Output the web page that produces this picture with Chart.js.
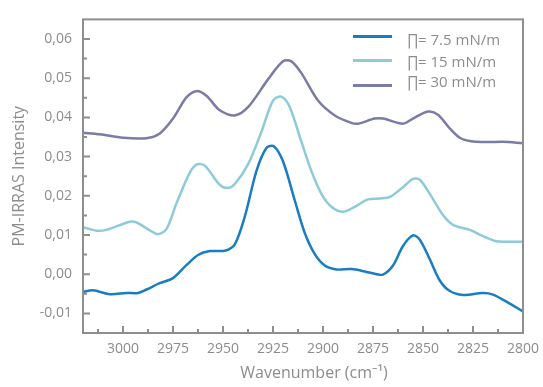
<!DOCTYPE html>
<html>
<head>
<meta charset="utf-8">
<script src="https://cdn.jsdelivr.net/npm/chart.js@4/dist/chart.umd.min.js"></script>
<style>
  html, body { margin: 0; padding: 0; background: #fff; }
  canvas { display: block; }
</style>
</head>
<body>
<canvas id="spectra" width="543" height="387"></canvas>
<script>
// series labels and colours
const labels = ["∏= 7.5 mN/m", "∏= 15 mN/m", "∏= 30 mN/m"];
const colors = ["#1a7cc1", "#8ecad8", "#7b7ba8"];

// wavenumber (cm-1) and PM-IRRAS intensity
const wn75 = [3020, 3015, 3006.6, 2998.3, 2992.5, 2988.3, 2981.6, 2975, 2968.3, 2962.5, 2956.6, 2949, 2944.1, 2939.1, 2933.3, 2928.3, 2924.5, 2920, 2914.1, 2909.1, 2904.1, 2899.1, 2893.3, 2885.8, 2879.1, 2874.1, 2870, 2865, 2860, 2855, 2851.6, 2846.6, 2841.6, 2836.6, 2830, 2820, 2815, 2808.3, 2803.3, 2800];
const val75 = [-0.0045, -0.0041, -0.0051, -0.0048, -0.0048, -0.0039, -0.0023, -0.001, 0.0023, 0.0049, 0.0059, 0.006, 0.0076, 0.0147, 0.0263, 0.0322, 0.0326, 0.0288, 0.0188, 0.0105, 0.0051, 0.0022, 0.0012, 0.0013, 0.0007, 0.0001, -0.0001, 0.0022, 0.0072, 0.0099, 0.0088, 0.0038, -0.0016, -0.0043, -0.0053, -0.0048, -0.0052, -0.007, -0.0085, -0.0095];

const wn15 = [3020, 3013.3, 3008.3, 2996.6, 2993.3, 2986.6, 2982.5, 2978.3, 2973.3, 2966.6, 2963, 2959.1, 2951.6, 2947.5, 2944.1, 2937.5, 2930.8, 2925, 2920.8, 2916.6, 2910.8, 2905.8, 2900.8, 2895.8, 2890, 2884.1, 2877.5, 2871.6, 2866.6, 2860, 2855, 2851.6, 2846.6, 2840, 2835, 2826.6, 2820, 2813.3, 2806.6, 2800];
const val15 = [0.012, 0.0111, 0.0113, 0.0134, 0.0132, 0.0112, 0.0102, 0.0115, 0.018, 0.0259, 0.028, 0.0277, 0.0228, 0.022, 0.023, 0.028, 0.0363, 0.0443, 0.0453, 0.0426, 0.0338, 0.0263, 0.0205, 0.0172, 0.0159, 0.0172, 0.0191, 0.0193, 0.0197, 0.0222, 0.0243, 0.0241, 0.0205, 0.0151, 0.0126, 0.0113, 0.0097, 0.0084, 0.0083, 0.0083];

const wn30 = [3020, 3011.6, 3000, 2988.3, 2981.6, 2975, 2968.3, 2963.3, 2958.3, 2951.6, 2944.1, 2937.5, 2927.5, 2920, 2915.8, 2910.8, 2902.5, 2894.1, 2885.8, 2882.5, 2874.1, 2870, 2860, 2855, 2847.5, 2842.5, 2836.6, 2831.6, 2826.6, 2818.3, 2810, 2800];
const val30 = [0.0361, 0.0357, 0.0348, 0.0347, 0.0359, 0.0397, 0.0451, 0.0467, 0.0455, 0.0418, 0.0405, 0.0426, 0.0497, 0.0543, 0.0543, 0.0513, 0.0443, 0.0405, 0.0386, 0.0384, 0.0397, 0.0397, 0.0384, 0.0397, 0.0415, 0.0407, 0.0372, 0.0348, 0.034, 0.0337, 0.0338, 0.0334];

// axis ranges and ticks
const xMin = 2800, xMax = 3020, xStep = 12.5, xLabelStep = 25;
const yMin = -0.015, yMax = 0.065;
const yTicks = [-0.015, -0.01, -0.005, 0, 0.005, 0.01, 0.015, 0.02, 0.025, 0.03, 0.035, 0.04, 0.045, 0.05, 0.055, 0.06];
const xTitle = "Wavenumber (cm⁻¹)";

const frameColor = "#8e8e8e";
const textColor = "#8c8c8c";
const fontFamily = "'Open Sans', 'Noto Sans', sans-serif";

function toPoints(xs, ys) {
    return xs.map((x, i) => ({ x: x, y: ys[i] }));
}

const series = [toPoints(wn75, val75), toPoints(wn15, val15), toPoints(wn30, val30)];

// frame and inward tick marks
const framePlugin = {
    id: "frame",
    afterDatasetsDraw(chart) {
        const { ctx, chartArea: a } = chart;
        const xs = chart.scales.x, ys = chart.scales.y;
        ctx.save();
        ctx.strokeStyle = frameColor;
        ctx.lineWidth = 2;
        ctx.strokeRect(a.left, a.top, a.right - a.left, a.bottom - a.top);
        ctx.beginPath();
        xs.ticks.forEach(t => {
            const px = xs.getPixelForValue(t.value);
            if (px <= a.left + 2 || px >= a.right - 2) return;
            const len = (t.value % xLabelStep === 0) ? 7 : 4;
            ctx.moveTo(px, a.bottom);
            ctx.lineTo(px, a.bottom - len);
        });
        ys.ticks.forEach(t => {
            const py = ys.getPixelForValue(t.value);
            if (py <= a.top + 2 || py >= a.bottom - 2) return;
            const major = Math.round(t.value * 1000) % 10 === 0;
            ctx.moveTo(a.left, py);
            ctx.lineTo(a.left + (major ? 7 : 4), py);
        });
        ctx.stroke();
        ctx.restore();
    }
};

// legend in the top right corner of the plot, x title a bit right of centre
const legendPlugin = {
    id: "cornerLegend",
    afterDraw(chart) {
        const { ctx, chartArea: a } = chart;
        const lineY = [a.top + 17, a.top + 41, a.top + 66];
        const textY = [a.top + 21, a.top + 43, a.top + 63];
        ctx.save();
        ctx.font = "15px " + fontFamily;
        ctx.textBaseline = "middle";
        ctx.fillStyle = textColor;
        chart.data.datasets.forEach((ds, i) => {
            ctx.strokeStyle = ds.borderColor;
            ctx.lineWidth = 3;
            ctx.beginPath();
            ctx.moveTo(a.right - 170, lineY[i]);
            ctx.lineTo(a.right - 131, lineY[i]);
            ctx.stroke();
            ctx.fillText(ds.label, a.right - 116, textY[i]);
        });

        ctx.font = "16px " + fontFamily;
        ctx.textAlign = "center";
        ctx.fillText(xTitle, (a.left + a.right) / 2 + 11, a.bottom + 40);
        ctx.restore();
    }
};

const ctx = document.getElementById("spectra").getContext("2d");
new Chart(ctx, {
    type: "line",
    data: {
        datasets: series.map((pts, i) => ({
            label: labels[i],
            data: pts,
            borderColor: colors[i],
            backgroundColor: colors[i],
            borderWidth: 2.5,
            pointRadius: 0,
            tension: 0.3,
            fill: false
        }))
    },
    options: {
        responsive: false,
        animation: false,
        devicePixelRatio: 1,
        layout: { padding: { top: 12, right: 20, left: 0, bottom: 0 } },
        plugins: {
            legend: { display: false },
            tooltip: { enabled: false }
        },
        scales: {
            x: {
                type: "linear",
                reverse: true,
                min: xMin,
                max: xMax,
                afterBuildTicks(scale) {
                    const ticks = [];
                    for (let v = xMin; v < xMax; v += xStep) ticks.push({ value: v });
                    scale.ticks = ticks;
                },
                afterFit(scale) { scale.height = 54; },
                grid: { display: false, drawTicks: false },
                border: { display: false },
                ticks: {
                    autoSkip: false,
                    maxRotation: 0,
                    padding: 8,
                    color: textColor,
                    font: { family: fontFamily, size: 14 },
                    callback: v => (v % xLabelStep === 0 ? String(v) : "")
                }
            },
            y: {
                min: yMin,
                max: yMax,
                afterBuildTicks(scale) {
                    scale.ticks = yTicks.map(v => ({ value: v }));
                },
                afterFit(scale) { scale.width = 83; },
                grid: { display: false, drawTicks: false },
                border: { display: false },
                ticks: {
                    autoSkip: false,
                    padding: 11,
                    color: textColor,
                    font: { family: fontFamily, size: 14 },
                    callback: v => (Math.round(v * 1000) % 10 === 0 ? v.toFixed(2).replace(".", ",") : "")
                },
                title: {
                    display: true,
                    text: "PM-IRRAS Intensity",
                    color: textColor,
                    font: { family: fontFamily, size: 16 },
                    padding: { top: 10, bottom: 0 }
                }
            }
        }
    },
    plugins: [framePlugin, legendPlugin]
});
</script>
</body>
</html>
